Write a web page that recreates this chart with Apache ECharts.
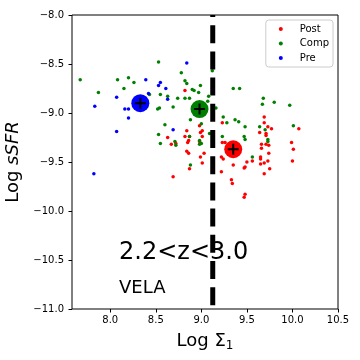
<!DOCTYPE html>
<html><head><meta charset="utf-8">
<script src="https://cdn.jsdelivr.net/npm/echarts@6/dist/echarts.min.js"></script>
<style>html,body{margin:0;padding:0;background:#fff}#c{width:360px;height:360px}</style>
</head><body><div id="c"></div>
<script>
// ---- data ----
const postX = [8.82,8.84,8.98,9.01,8.99,8.63,8.82,8.87,8.86,8.85,8.67,8.72,9.01,8.98,8.99,8.84,8.86,9.03,8.99,9.01,8.87,8.69,9.23,9.23,9.26,9.22,9.24,9.35,9.22,9.33,9.34,9.50,9.48,9.47,9.48,9.47,9.69,9.69,9.73,9.77,9.64,9.71,9.71,10.07,9.99,10.01,10.00,9.66,9.66,9.71,9.74,9.74,9.65,9.65,9.73,9.69,9.65,9.56,9.75,9.69];
const postY = [-8.77,-9.18,-9.13,-9.18,-9.20,-9.25,-9.24,-9.24,-9.28,-9.30,-9.32,-9.31,-9.24,-9.29,-9.31,-9.39,-9.41,-9.41,-9.45,-9.51,-9.57,-9.65,-9.10,-9.30,-9.30,-9.45,-9.47,-9.53,-9.60,-9.68,-9.72,-9.50,-9.55,-9.56,-9.83,-9.86,-9.04,-9.10,-9.14,-9.16,-9.20,-9.21,-9.23,-9.16,-9.30,-9.37,-9.49,-9.32,-9.36,-9.32,-9.33,-9.41,-9.45,-9.47,-9.49,-9.51,-9.52,-9.49,-9.57,-9.62];
const compX = [7.67,7.87,8.08,8.20,8.26,8.15,8.53,8.43,8.55,8.52,8.54,8.53,8.55,8.78,8.82,8.84,8.99,8.90,8.92,8.97,9.12,8.63,8.74,8.82,8.87,9.08,9.07,8.69,9.16,9.35,9.42,8.60,9.00,8.88,9.24,9.28,9.37,9.41,9.48,8.87,9.09,8.71,8.72,8.98,9.00,8.98,9.23,9.47,9.48,8.88,9.68,9.67,9.80,9.97,10.01,9.64,9.70,9.73,9.73,9.56];
const compY = [-8.66,-8.79,-8.66,-8.64,-8.69,-8.75,-8.48,-8.81,-8.81,-8.96,-8.95,-9.22,-9.31,-8.59,-8.67,-8.70,-8.72,-8.76,-8.77,-8.79,-8.57,-8.83,-8.85,-8.85,-8.85,-8.83,-8.88,-8.94,-8.95,-8.75,-8.75,-9.12,-9.11,-9.07,-9.04,-9.10,-9.07,-9.09,-9.14,-9.24,-9.21,-9.29,-9.33,-9.28,-9.31,-9.32,-9.24,-9.24,-9.27,-9.53,-8.85,-8.91,-8.89,-8.92,-9.13,-9.14,-9.17,-9.27,-9.29,-9.45];
const preX = [8.39,8.53,8.55,8.42,8.07,7.83,8.16,8.20,8.20,8.07,7.82,8.84,8.61,8.63,8.69];
const preY = [-8.66,-8.72,-8.69,-8.80,-8.84,-8.93,-8.96,-8.96,-9.05,-9.19,-9.62,-8.49,-8.75,-8.86,-9.17];
const groupNames = ['Post','Comp','Pre'];
const groupColors = ['#ff0000','#008000','#0000ff'];
const meanX = [9.35, 8.98, 8.33];
const meanY = [-9.37, -8.96, -8.90];
const divideX = 9.125;
const xTicks = [8.0, 8.5, 9.0, 9.5, 10.0, 10.5];
const xRange = [7.58, 10.5];
const yRange = [-11, -8];
const yStep = 0.5;
const zLabel = '2.2<z<3.0';
const simLabel = 'VELA';

const FONT = 'DejaVu Sans';
const zip = (xs, ys) => xs.map((x, i) => [x, ys[i]]);
const groups = [zip(postX, postY), zip(compX, compY), zip(preX, preY)];
const minus = v => (v < 0 ? '\u2212' : '') + Math.abs(v).toFixed(1);
const PLUS = 'path://M4.5,0H6.5V4.5H11V6.5H6.5V11H4.5V6.5H0V4.5H4.5Z';

const series = [];
groups.forEach((g, i) => {
  series.push({
    name: groupNames[i], type: 'scatter', data: g, symbol: 'circle', symbolSize: 3.5,
    itemStyle: { color: groupColors[i], opacity: 1 }, z: 2, silent: true
  });
});
groups.forEach((g, i) => {
  series.push({
    name: groupNames[i] + ' mean', type: 'scatter', data: [[meanX[i], meanY[i]]],
    symbol: 'circle', symbolSize: 18, itemStyle: { color: groupColors[i], opacity: 1 }, z: 3, silent: true
  });
  series.push({
    name: groupNames[i] + ' cross', type: 'scatter', data: [[meanX[i], meanY[i]]],
    symbol: PLUS, symbolSize: 11, itemStyle: { color: '#000', opacity: 1 }, z: 4, silent: true
  });
});
series.push({
  name: 'divide', type: 'line', data: [[divideX, yRange[1]], [divideX, yRange[0]]],
  symbol: 'none', clip: true, z: 5, silent: true,
  lineStyle: { color: '#000', width: 5, type: [18, 8.2], dashOffset: 16, cap: 'butt' }
});

const chart = echarts.init(document.getElementById('c'), null, { renderer: 'canvas' });
chart.setOption({
  animation: false,
  backgroundColor: '#fff',
  grid: { left: 72, right: 22, top: 15, bottom: 51, show: true, borderColor: '#000', borderWidth: 1,
          backgroundColor: 'transparent', containLabel: false, outerBoundsMode: 'none' },
  xAxis: {
    type: 'value', min: xRange[0], max: xRange[1],
    axisLine: { show: false }, splitLine: { show: false },
    axisTick: { show: true, length: 3.5, inside: false, customValues: xTicks, lineStyle: { color: '#000', width: 1 } },
    axisLabel: { show: true, customValues: xTicks, margin: 6, color: '#000', fontSize: 10, fontFamily: FONT,
                 formatter: v => v.toFixed(1) },
    name: '{a|Log Σ}{s|1}', nameLocation: 'middle', nameGap: 21,
    nameTextStyle: { color: '#000', fontFamily: FONT, fontSize: 18,
      rich: { a: { fontFamily: FONT, fontSize: 18, color: '#000' },
              s: { fontFamily: FONT, fontSize: 12, color: '#000', padding: [10, 0, 0, 0] } } }
  },
  yAxis: {
    type: 'value', min: yRange[0], max: yRange[1], interval: yStep,
    axisLine: { show: false }, splitLine: { show: false },
    axisTick: { show: true, length: 3.5, inside: false, lineStyle: { color: '#000', width: 1 } },
    axisLabel: { show: true, margin: 8, color: '#000', fontSize: 10, fontFamily: FONT, formatter: minus },
    name: '{a|Log }{b|sSFR}', nameLocation: 'middle', nameRotate: 90, nameGap: 39,
    nameTextStyle: { color: '#000', fontFamily: FONT, fontSize: 18,
      rich: { a: { fontFamily: FONT, fontSize: 18, color: '#000' },
              b: { fontFamily: FONT, fontSize: 18, fontStyle: 'italic', color: '#000' } } }
  },
  legend: {
    data: groupNames, orient: 'vertical', right: 27, top: 20,
    icon: 'circle', itemWidth: 4, itemHeight: 4, itemGap: 2.5,
    textStyle: { fontFamily: FONT, fontSize: 10, color: '#000', lineHeight: 12, padding: [0, 0, 0, 12] },
    padding: [3, 4, 3, 13], borderColor: '#cccccc', borderWidth: 1, borderRadius: 3,
    backgroundColor: 'rgba(255,255,255,0.8)', selectedMode: false
  },
  graphic: [
    { type: 'text', left: 119, top: 241, z: 1, silent: true,
      style: { text: zLabel, fill: '#000', font: '24px "DejaVu Sans"' } },
    { type: 'text', left: 119, top: 279, z: 1, silent: true,
      style: { text: simLabel, fill: '#000', font: '18px "DejaVu Sans"' } }
  ],
  series: series
});
</script>
</body></html>
